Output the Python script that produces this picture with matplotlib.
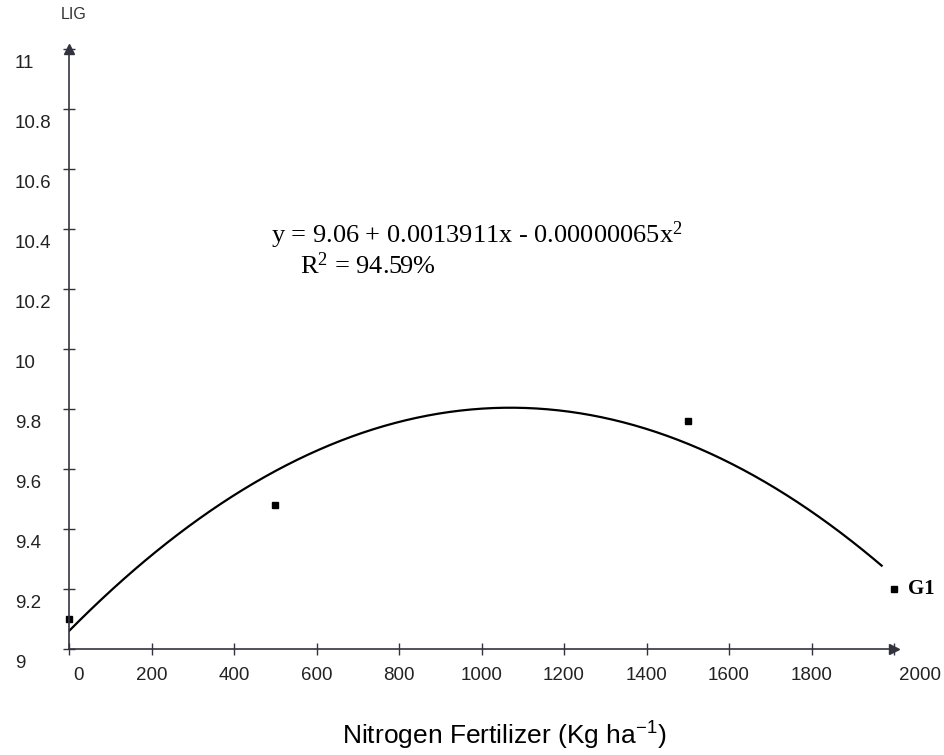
import numpy as np
import matplotlib
matplotlib.use('Agg')
import matplotlib.pyplot as plt
from matplotlib.transforms import ScaledTranslation

# observed LIG values for nitrogen doses
nitrogen = [0, 500, 1500, 2000]
lig = [9.10, 9.48, 9.76, 9.20]

# fitted quadratic shown on the chart: y = b0 + b1 x + b2 x^2
coef = [9.06, 0.0013911, -0.00000065]
fit_range = [0, 1970]

xticks = [0, 200, 400, 600, 800, 1000, 1200, 1400, 1600, 1800, 2000]
yticks = [9, 9.2, 9.4, 9.6, 9.8, 10, 10.2, 10.4, 10.6, 10.8, 11]
ytick_labels = ['9', '9.2', '9.4', '9.6', '9.8', '10', '10.2', '10.4', '10.6', '10.8', '11']

axis_col = '#333340'
sans = 'Liberation Sans'
serif = 'Liberation Serif'

fig = plt.figure(figsize=(9.45, 7.55), dpi=100)
ax = fig.add_axes([69 / 945, 106 / 755, 825 / 945, 600 / 755])

xs = np.linspace(fit_range[0], fit_range[1], 300)
ys = np.polyval(coef[::-1], xs)
ax.plot(xs, ys, color='black', lw=1.6)
ax.plot(nitrogen, lig, 's', color='black', ms=4, clip_on=False)

ax.set_xlim(0, 2000)
ax.set_ylim(9, 11)
ax.set_xticks(xticks)
ax.set_xticklabels([str(v) for v in xticks])
ax.set_yticks(yticks)
ax.set_yticklabels(ytick_labels)

for side in ['top', 'right']:
    ax.spines[side].set_visible(False)
for side in ['left', 'bottom']:
    ax.spines[side].set_color(axis_col)
    ax.spines[side].set_linewidth(1.2)

# arrow heads on the axes
ax.plot(1, 0, '>', color=axis_col, ms=7, transform=ax.transAxes, clip_on=False)
ax.plot(0, 1, '^', color=axis_col, ms=7, transform=ax.transAxes, clip_on=False)

ax.tick_params(axis='both', direction='inout', length=8, width=1, color=axis_col)
ax.tick_params(axis='x', labelsize=13.5, pad=9)
ax.tick_params(axis='y', labelsize=13.5, pad=35)
for lab in ax.get_yticklabels():
    lab.set_fontfamily(sans)
    lab.set_horizontalalignment('left')
    lab.set_color('#222222')
    lab.set_transform(lab.get_transform() + ScaledTranslation(0, -0.12, fig.dpi_scale_trans))
for lab in ax.get_xticklabels():
    lab.set_fontfamily(sans)
    lab.set_color('#222222')
xl = ax.get_xticklabels()
xl[0].set_transform(xl[0].get_transform() + ScaledTranslation(0.09, 0, fig.dpi_scale_trans))
xl[-1].set_transform(xl[-1].get_transform() + ScaledTranslation(0.26, 0, fig.dpi_scale_trans))

ax.set_xlabel('Nitrogen Fertilizer (Kg ha$\\mathregular{^{-1}}$)', fontsize=19, family=sans)
ax.xaxis.set_label_coords(0.528, -0.118)

ax.text(0.006, 1.057, 'LIG', transform=ax.transAxes, fontsize=11.5, family=sans,
        ha='center', va='center', color='#333333')

ax.text(490, 10.355, 'y = 9.06 + 0.0013911x - 0.00000065x$\\mathregular{^{2}}$',
        fontsize=19, family=serif, va='baseline')
ax.text(560, 10.25, 'R$\\mathregular{^{2}}$ = 94.59%', fontsize=19, family=serif, va='baseline')

ax.annotate('G1', (nitrogen[-1], lig[-1]), xytext=(10, 0), textcoords='offset points',
            fontsize=15, fontweight='bold', family=serif, va='center', annotation_clip=False)

fig.savefig('out.png', dpi=100)
